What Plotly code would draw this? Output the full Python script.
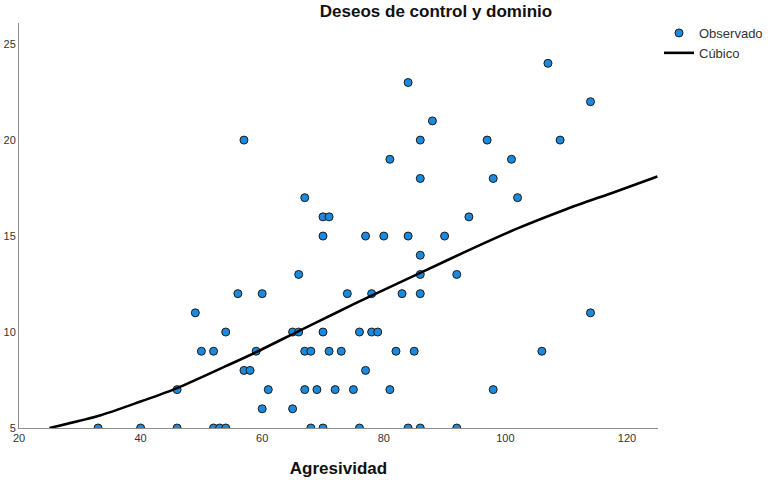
import plotly.graph_objects as go

# Observed points (Agresividad, Deseos de control y dominio)
obs_x = [33, 40, 46, 52, 53, 54, 68, 70, 76, 84, 86, 92,
         60, 65,
         46, 61, 67, 69, 72, 75, 81, 98,
         57, 58, 77,
         50, 52, 59, 67, 68, 71, 73, 82, 85, 106,
         54, 65, 66, 70, 76, 78, 79,
         49, 114,
         56, 60, 74, 78, 83, 86,
         66, 86, 92,
         86,
         70, 77, 80, 84, 90,
         70, 71, 94,
         67, 102,
         86, 98,
         81, 101,
         57, 86, 97, 109,
         88,
         114,
         84,
         107]
obs_y = [5] * 12 + [6] * 2 + [7] * 8 + [8] * 3 + [9] * 10 + [10] * 7 + [11] * 2 + \
        [12] * 6 + [13] * 3 + [14] * 1 + [15] * 5 + [16] * 3 + [17] * 2 + [18] * 2 + \
        [19] * 2 + [20] * 4 + [21] + [22] + [23] + [24]

# Cubic fit curve
cubic_x = [25, 33, 40, 46, 54, 59, 66, 72, 78, 86, 94, 102, 110, 118, 125]
cubic_y = [5.0, 5.62, 6.38, 7.08, 8.22, 8.95, 10.05, 10.98, 11.9, 13.08, 14.27, 15.4, 16.4, 17.3, 18.1]

x_ticks = [20, 40, 60, 80, 100, 120]
y_ticks = [5, 10, 15, 20, 25]

fig = go.Figure()
fig.add_trace(go.Scatter(
    x=obs_x, y=obs_y, mode="markers", name="Observado",
    marker=dict(size=8, color="#1a8ade", line=dict(color="#1a1a1a", width=1)),
))
fig.add_trace(go.Scatter(
    x=cubic_x, y=cubic_y, mode="lines", name="Cúbico",
    line=dict(color="black", width=2.6, shape="spline", smoothing=0.8),
))

fig.update_layout(
    width=768, height=480,
    margin=dict(l=19, r=110, t=23, b=52, autoexpand=False),
    paper_bgcolor="white", plot_bgcolor="white",
    font=dict(family="Liberation Sans, Arial, sans-serif", size=11, color="#333333"),
    title=dict(text="<b>Deseos de control y dominio</b>", x=436 / 768, xref="container",
               xanchor="center", y=1 - 11 / 480, yref="container", yanchor="middle",
               font=dict(size=17, color="#111111")),
    showlegend=True,
    legend=dict(x=659 / 768, y=1 - 18 / 480, xref="container", yref="container",
                xanchor="left", yanchor="top",
                font=dict(size=13, color="#333333"), itemwidth=30,
                tracegroupgap=0, bgcolor="rgba(0,0,0,0)"),
    xaxis=dict(range=[20, 125.1], tickvals=x_ticks, showgrid=False, zeroline=False,
               showline=True, linecolor="#8c8c8c", linewidth=1, ticks="",
               automargin=False,
               tickfont=dict(size=11, color="#333333"),
               title=dict(text="<b>Agresividad</b>", font=dict(size=17, color="#111111"),
                          standoff=18)),
    yaxis=dict(range=[5, 26.1], tickvals=y_ticks, showgrid=False, zeroline=False,
               showline=True, linecolor="#8c8c8c", linewidth=1, ticks="",
               automargin=False,
               tickfont=dict(size=11, color="#333333")),
)

fig.write_html("out.html", config={"displayModeBar": False},
               post_script="document.body.style.margin='0';document.body.style.padding='0';")
